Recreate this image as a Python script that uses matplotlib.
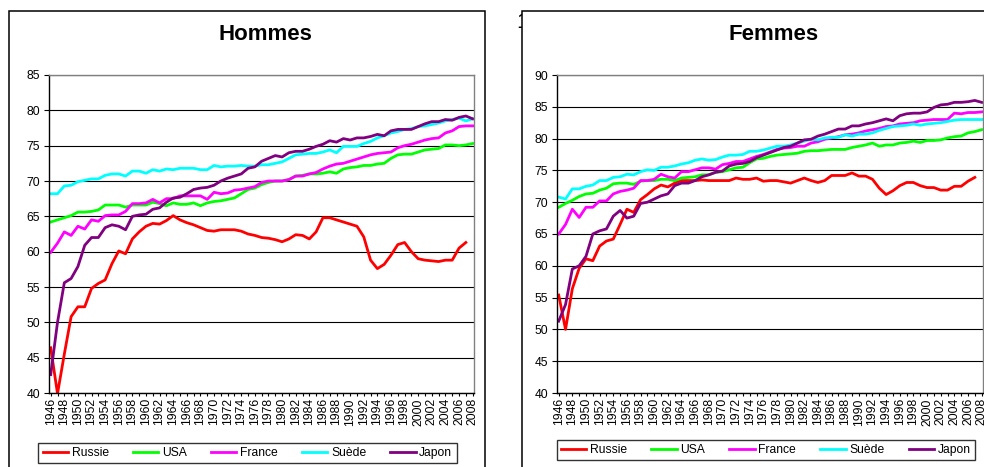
import numpy as np
import matplotlib
matplotlib.use("Agg")
import matplotlib.pyplot as plt
from matplotlib.patches import Rectangle

plt.rcParams['font.family'] = ['Liberation Sans', 'DejaVu Sans']

# life expectancy at birth, 1946-2008
years = list(range(1946, 2009))

pays = ["Russie", "USA", "France", "Suède", "Japon"]
couleurs = ["#ff0000", "#00ff00", "#ff00ff", "#00ffff", "#800080"]

# Hommes
russie_h = [46.4, 39.9, 45.5, 50.8, 52.2, 52.2, 54.8, 55.5, 56.0, 58.3,
            60.1, 59.7, 61.8, 62.8, 63.6, 64.0, 63.9, 64.4, 65.1, 64.5,
            64.1, 63.8, 63.4, 63.0, 62.9, 63.1, 63.1, 63.1, 62.9, 62.5,
            62.3, 62.0, 61.9, 61.7, 61.4, 61.8, 62.4, 62.3, 61.8, 62.8,
            64.8, 64.8, 64.5, 64.2, 63.9, 63.6, 62.1, 58.8, 57.6, 58.2,
            59.5, 61.0, 61.3, 60.0, 59.0, 58.8, 58.7, 58.6, 58.8, 58.8,
            60.5, 61.3, np.nan]
usa_h = [64.2, 64.5, 64.8, 65.1, 65.6, 65.6, 65.7, 65.9, 66.6, 66.6,
         66.6, 66.3, 66.6, 66.6, 66.6, 67.0, 66.8, 66.5, 66.9, 66.7,
         66.7, 66.9, 66.5, 66.9, 67.1, 67.2, 67.4, 67.6, 68.2, 68.8,
         69.0, 69.5, 69.8, 70.0, 70.0, 70.2, 70.7, 70.8, 71.0, 71.0,
         71.1, 71.3, 71.1, 71.7, 71.9, 72.0, 72.2, 72.2, 72.4, 72.5,
         73.2, 73.7, 73.8, 73.8, 74.1, 74.4, 74.5, 74.6, 75.1, 75.1,
         75.0, 75.1, 75.3]
france_h = [59.9, 61.2, 62.8, 62.3, 63.6, 63.2, 64.5, 64.3, 65.1, 65.2,
            65.2, 65.7, 66.8, 66.8, 66.9, 67.4, 66.9, 67.5, 67.5, 67.9,
            67.9, 67.9, 67.9, 67.4, 68.4, 68.2, 68.3, 68.7, 68.8, 69.0,
            69.2, 69.8, 70.0, 70.0, 70.0, 70.2, 70.7, 70.7, 71.0, 71.2,
            71.7, 72.1, 72.4, 72.5, 72.8, 73.1, 73.4, 73.7, 73.9, 74.0,
            74.1, 74.7, 75.0, 75.2, 75.5, 75.8, 76.0, 76.1, 76.8, 77.1,
            77.7, 77.8, 77.8]
suede_h = [68.2, 68.2, 69.3, 69.4, 69.9, 70.1, 70.3, 70.3, 70.8, 71.0,
           71.0, 70.7, 71.4, 71.4, 71.1, 71.6, 71.4, 71.7, 71.6, 71.8,
           71.8, 71.8, 71.6, 71.6, 72.2, 72.0, 72.1, 72.1, 72.2, 72.1,
           72.1, 72.3, 72.3, 72.5, 72.7, 73.2, 73.7, 73.8, 73.9, 73.9,
           74.1, 74.4, 74.0, 74.9, 74.9, 74.9, 75.3, 75.6, 76.1, 76.4,
           76.8, 77.0, 77.3, 77.4, 77.7, 77.8, 78.0, 78.2, 78.5, 78.7,
           78.9, 78.5, 78.8]
japon_h = [42.6, 50.0, 55.6, 56.2, 57.9, 60.9, 62.0, 62.0, 63.4, 63.8,
           63.6, 63.1, 65.0, 65.2, 65.3, 66.0, 66.2, 67.0, 67.6, 67.7,
           68.2, 68.8, 69.0, 69.1, 69.4, 70.0, 70.4, 70.7, 71.0, 71.8,
           72.0, 72.8, 73.2, 73.6, 73.4, 74.0, 74.2, 74.2, 74.5, 74.9,
           75.2, 75.7, 75.5, 76.0, 75.8, 76.1, 76.1, 76.3, 76.6, 76.4,
           77.1, 77.3, 77.3, 77.3, 77.7, 78.1, 78.4, 78.4, 78.7, 78.6,
           79.0, 79.2, 78.8]

# Femmes
russie_f = [55.4, 50.0, 56.4, 59.6, 61.1, 60.8, 63.1, 63.9, 64.2, 66.5,
            68.9, 68.4, 70.4, 71.2, 72.1, 72.7, 72.4, 73.0, 73.4, 73.4,
            73.4, 73.5, 73.4, 73.4, 73.4, 73.4, 73.8, 73.6, 73.6, 73.8,
            73.3, 73.4, 73.4, 73.2, 73.0, 73.4, 73.8, 73.4, 73.1, 73.4,
            74.2, 74.2, 74.2, 74.6, 74.1, 74.1, 73.6, 72.2, 71.2, 71.8,
            72.6, 73.1, 73.1, 72.6, 72.3, 72.3, 71.9, 71.9, 72.5, 72.5,
            73.3, 73.9, np.nan]
usa_f = [69.2, 69.8, 70.3, 70.9, 71.3, 71.4, 71.9, 72.2, 72.9, 73.0,
         73.0, 72.8, 73.3, 73.4, 73.4, 73.6, 73.6, 73.4, 73.8, 73.9,
         74.0, 74.3, 74.3, 74.7, 74.8, 75.1, 75.4, 75.5, 76.2, 76.8,
         76.9, 77.2, 77.4, 77.5, 77.6, 77.7, 78.0, 78.1, 78.1, 78.2,
         78.3, 78.3, 78.3, 78.6, 78.8, 79.0, 79.3, 78.8, 79.0, 79.0,
         79.3, 79.4, 79.6, 79.4, 79.7, 79.7, 79.8, 80.1, 80.3, 80.4,
         80.9, 81.1, 81.4]
france_f = [65.0, 66.5, 68.9, 67.6, 69.2, 69.2, 70.2, 70.2, 71.3, 71.7,
            71.9, 72.2, 73.4, 73.4, 73.6, 74.4, 74.0, 73.8, 74.8, 74.8,
            75.1, 75.4, 75.4, 75.2, 75.9, 76.1, 76.4, 76.4, 76.8, 77.2,
            77.5, 77.9, 78.3, 78.5, 78.6, 78.8, 78.8, 79.3, 79.5, 79.9,
            80.1, 80.3, 80.6, 80.7, 80.9, 81.2, 81.4, 81.6, 81.9, 82.0,
            82.3, 82.4, 82.5, 82.8, 82.9, 83.0, 83.0, 83.0, 84.0, 83.9,
            84.1, 84.1, 84.2]
suede_f = [70.8, 70.5, 72.1, 72.1, 72.5, 72.7, 73.4, 73.4, 73.9, 74.0,
           74.4, 74.3, 74.8, 75.1, 75.0, 75.5, 75.5, 75.7, 76.0, 76.2,
           76.6, 76.8, 76.6, 76.7, 77.1, 77.4, 77.4, 77.5, 78.0, 78.0,
           78.2, 78.5, 78.8, 78.8, 79.0, 79.3, 79.6, 79.9, 79.8, 80.1,
           80.2, 80.2, 80.6, 80.4, 80.7, 80.7, 80.9, 81.3, 81.6, 81.9,
           82.0, 82.1, 82.3, 82.1, 82.3, 82.4, 82.5, 82.7, 82.9, 83.0,
           83.0, 83.0, 83.0]
japon_f = [51.3, 53.9, 59.5, 60.0, 61.5, 65.0, 65.5, 65.8, 67.8, 68.7,
           67.5, 67.8, 69.8, 70.0, 70.5, 71.0, 71.3, 72.6, 73.0, 73.0,
           73.4, 74.0, 74.3, 74.7, 74.9, 75.7, 76.0, 76.1, 76.4, 77.0,
           77.4, 77.8, 78.2, 78.6, 78.8, 79.3, 79.8, 79.9, 80.4, 80.7,
           81.1, 81.5, 81.5, 82.0, 82.0, 82.3, 82.5, 82.8, 83.1, 82.8,
           83.6, 83.9, 84.0, 84.0, 84.2, 84.9, 85.3, 85.4, 85.7, 85.7,
           85.8, 86.0, 85.7]

W, H = 984, 467
fig = plt.figure(figsize=(W / 100, H / 100), dpi=100)
fig.patch.set_facecolor("white")


def fx(px):
    return px / W


def fy(py):
    return 1 - py / H


# chart frames (the right one hides most of the stray "1")
fig.text(fx(523), fy(22), "1", fontsize=16, ha="center", va="center", zorder=-3)
fig.add_artist(Rectangle((fx(9), -0.05), fx(476), fy(11) + 0.05, transform=fig.transFigure,
                         facecolor="white", edgecolor="black", lw=1.1, zorder=-1))
fig.add_artist(Rectangle((fx(522), -0.05), 0.6, fy(11) + 0.05, transform=fig.transFigure,
                         facecolor="white", edgecolor="black", lw=1.1, zorder=-1))

FS = 8.7


def panel(left_px, width_px, series, ymin, ymax, title, title_x, leg_x, leg_y):
    ax = fig.add_axes([fx(left_px), fy(393), fx(width_px), fy(75) - fy(393)])
    ax.set_facecolor("white")
    for vals, name, c in zip(series, pays, couleurs):
        ax.plot(years, vals, color=c, lw=2.0, label=name, solid_joinstyle="round")
    ax.set_xlim(1945.75, 2008.2)
    ax.set_ylim(ymin, ymax)
    ax.set_yticks(np.arange(ymin, ymax + 1, 5))
    ax.yaxis.grid(True, color="black", lw=0.8)
    ax.set_axisbelow(True)
    ax.set_xticks(years[::2])
    ax.set_xticks(years[1::2], minor=True)
    ax.set_xticklabels([str(y) for y in years[::2]], rotation=90, fontsize=FS)
    ax.tick_params(axis="y", direction="out", length=3.6, width=0.8, pad=3, labelsize=FS)
    ax.tick_params(axis="x", which="both", direction="out", length=2.2, width=0.8, pad=1.5)
    for s in ("left", "bottom"):
        ax.spines[s].set_color("black")
        ax.spines[s].set_linewidth(1.0)
    for s in ("top", "right"):
        ax.spines[s].set_color("#808080")
        ax.spines[s].set_linewidth(1.0)
    leg = ax.legend(loc="upper center", bbox_to_anchor=(leg_x, leg_y), ncol=5,
                    fontsize=FS, frameon=True, fancybox=False, edgecolor="black",
                    handlelength=2.1, handletextpad=0.3, columnspacing=2.0,
                    borderpad=0.35)
    leg.get_frame().set_linewidth(1.0)
    fig.text(fx(title_x), fy(35), title, fontsize=16, fontweight="bold",
             ha="center", va="center")
    return ax


panel(49, 425, [russie_h, usa_h, france_h, suede_h, japon_h], 40, 85,
      "Hommes", 265, 0.467, -0.138)
panel(557, 426, [russie_f, usa_f, france_f, suede_f, japon_f], 40, 90,
      "Femmes", 773.5, 0.49, -0.128)

fig.savefig("out.png", dpi=100)
